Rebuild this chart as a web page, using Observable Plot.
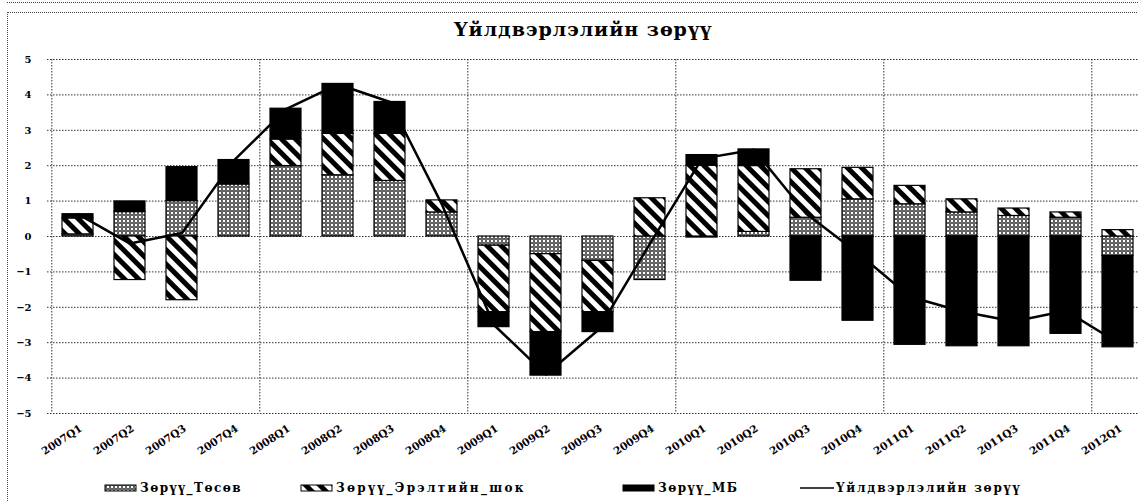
<!DOCTYPE html>
<html>
<head>
<meta charset="utf-8">
<script src="https://cdn.jsdelivr.net/npm/d3@7"></script>
<script src="https://cdn.jsdelivr.net/npm/@observablehq/plot@0.6"></script>
<style>
  html, body { margin: 0; padding: 0; background: #fff; }
  body { width: 1138px; height: 502px; position: relative; overflow: hidden; font-family: "DejaVu Serif", "Liberation Serif", serif; font-weight: bold; color: #000; }
  #topline { position: absolute; left: 7px; right: 0; top: 2px; border-top: 1px dotted #444; }
  #box { position: absolute; left: 7px; top: 12px; right: -5px; bottom: -5px; border: 1px dotted #444; }
  #title { position: absolute; top: 18px; left: 24px; width: 1118px; text-align: center; font-size: 19px; letter-spacing: 1px; }
  #chart { position: absolute; left: 0; top: 45px; }
  .leg { position: absolute; top: 480px; height: 16px; display: flex; align-items: center; font-size: 12px; letter-spacing: 1.5px; white-space: nowrap; }
  .leg svg { display: block; margin-right: 2px; }
</style>
</head>
<body>
<svg width="0" height="0" style="position:absolute">
  <defs>
    <pattern id="dots" width="4" height="4" patternUnits="userSpaceOnUse">
      <rect width="4" height="4" fill="#fff"/>
      <circle cx="2" cy="2" r="1.3" fill="none" stroke="#000" stroke-width="1"/>
    </pattern>
    <pattern id="hatch" width="10" height="10" patternUnits="userSpaceOnUse" patternTransform="rotate(-45)">
      <rect width="10" height="10" fill="#fff"/>
      <rect width="5" height="10" fill="#000"/>
    </pattern>
  </defs>
</svg>
<div id="topline"></div>
<div id="box"></div>
<div id="title"></div>
<div id="chart"></div>
<div id="legend"></div>
<script>
const chartTitle = "Үйлдвэрлэлийн зөрүү";
const quarters = ["2007Q1","2007Q2","2007Q3","2007Q4","2008Q1","2008Q2","2008Q3","2008Q4","2009Q1","2009Q2","2009Q3","2009Q4","2010Q1","2010Q2","2010Q3","2010Q4","2011Q1","2011Q2","2011Q3","2011Q4","2012Q1"];
const seriesNames = ["Зөрүү_Төсөв", "Зөрүү_Эрэлтийн_шок", "Зөрүү_МБ"];
const lineName = "Үйлдвэрлэлийн зөрүү";
const zoruuTosov = [0.06, 0.69, 1.0, 1.47, 1.99, 1.73, 1.57, 0.68, -0.26, -0.5, -0.69, -1.23, -0.03, 0.13, 0.53, 1.05, 0.91, 0.68, 0.58, 0.53, -0.55];
const zoruuEreltShok = [0.45, -1.23, -1.8, 0, 0.75, 1.17, 1.33, 0.34, -1.88, -2.2, -1.45, 1.08, 2.0, 1.86, 1.37, 0.89, 0.52, 0.37, 0.21, 0.15, 0.18];
const zoruuMB = [0.12, 0.3, 0.96, 0.69, 0.87, 1.41, 0.9, 0, -0.42, -1.23, -0.56, 0, 0.3, 0.47, -1.25, -2.38, -3.06, -3.1, -3.1, -2.75, -2.58];
const uildverleliinZoruu = [0.63, -0.2, 0.1, 2.15, 3.6, 4.3, 3.8, 0.9, -2.5, -3.9, -2.65, -0.2, 2.2, 2.45, 0.65, -0.47, -1.7, -2.12, -2.4, -2.1, -3.0];
const yTicks = [-5, -4, -3, -2, -1, 0, 1, 2, 3, 4, 5];
const yearStarts = ["2007Q1", "2008Q1", "2009Q1", "2010Q1", "2011Q1", "2012Q1"];

const fills = ["url(#dots)", "url(#hatch)", "#000"];
const seriesValues = [zoruuTosov, zoruuEreltShok, zoruuMB];

const bars = [];
quarters.forEach((q, i) => {
  seriesNames.forEach((s, k) => bars.push({q, s, v: seriesValues[k][i]}));
});
const lineRows = quarters.map((q, i) => ({q, v: uildverleliinZoruu[i]}));

document.getElementById("title").textContent = chartTitle;

const W = 1138, H = 415;
const xLeft = 47, xRight = 1147;
const step = (xRight - xLeft) / quarters.length;

const plot = Plot.plot({
  width: W,
  height: H,
  marginLeft: xLeft,
  marginRight: 0,
  marginTop: 14,
  marginBottom: 47,
  style: {fontFamily: "'DejaVu Serif', serif", fontWeight: "bold", fontSize: "10px", background: "transparent", color: "#000"},
  x: {type: "band", domain: quarters, range: [xLeft, xRight], paddingInner: 0.41, paddingOuter: 0.205, label: null},
  y: {domain: [-5, 5], label: null},
  color: {type: "ordinal", domain: seriesNames, range: fills},
  marks: [
    Plot.gridY(yTicks, {stroke: "#333", strokeOpacity: 1, strokeDasharray: "1.5,1.5"}),
    Plot.ruleX(yearStarts, {x: d => d, dx: -step / 2, stroke: "#333", strokeDasharray: "1.5,1.5"}),
    Plot.barY(bars, Plot.stackY({x: "q", y: "v", fill: "s", stroke: "#000", strokeWidth: 1.2})),
    Plot.lineY(lineRows, {x: "q", y: "v", stroke: "#000", strokeWidth: 2.5}),
    Plot.axisY(yTicks, {tickSize: 0, tickPadding: 16, fontSize: 10, fontWeight: "bold", label: null}),
    Plot.axisX({tickSize: 0, tickPadding: 14, tickRotate: -33, fontSize: 10.5, fontWeight: "bold", label: null, dx: 3})
  ]
});
document.getElementById("chart").appendChild(plot);

// Legend
const legend = document.getElementById("legend");
const legItems = [
  {name: seriesNames[0], left: 104, kind: "rect", fill: fills[0]},
  {name: seriesNames[1], left: 300, kind: "rect", fill: fills[1]},
  {name: seriesNames[2], left: 622, kind: "rect", fill: fills[2]},
  {name: lineName, left: 800, kind: "line"}
];
legItems.forEach(it => {
  const d = document.createElement("div");
  d.className = "leg";
  d.style.left = it.left + "px";
  if (it.kind === "line") d.style.letterSpacing = "1.8px";
  if (it.name === seriesNames[1]) d.style.letterSpacing = "2.3px";
  const ns = "http://www.w3.org/2000/svg";
  const s = document.createElementNS(ns, "svg");
  s.setAttribute("width", 34); s.setAttribute("height", 10);
  if (it.kind === "rect") {
    const r = document.createElementNS(ns, "rect");
    r.setAttribute("x", 1); r.setAttribute("y", 2); r.setAttribute("width", 31); r.setAttribute("height", 6);
    r.setAttribute("fill", it.fill); r.setAttribute("stroke", "#000"); r.setAttribute("stroke-width", 1);
    s.appendChild(r);
  } else {
    const l = document.createElementNS(ns, "line");
    l.setAttribute("x1", 0); l.setAttribute("x2", 34); l.setAttribute("y1", 5); l.setAttribute("y2", 5);
    l.setAttribute("stroke", "#000"); l.setAttribute("stroke-width", 1.5);
    s.appendChild(l);
  }
  d.appendChild(s);
  const t = document.createElement("span");
  t.textContent = it.name;
  d.appendChild(t);
  legend.appendChild(d);
});
</script>
</body>
</html>
